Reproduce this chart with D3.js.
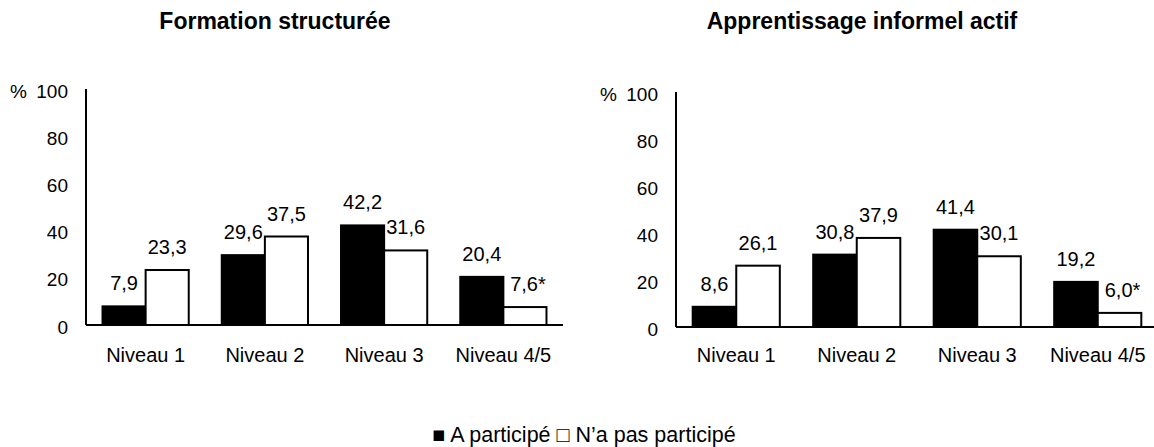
<!DOCTYPE html>
<html>
<head>
<meta charset="utf-8">
<script src="https://cdn.jsdelivr.net/npm/d3@7"></script>
<style>
  body { margin: 0; background: #fff; }
  text { font-family: "Liberation Sans", Arial, sans-serif; fill: #000; }
</style>
</head>
<body>
<svg width="1154" height="447"></svg>
<script>
'use strict';

// the data
var categories = ['Niveau 1', 'Niveau 2', 'Niveau 3', 'Niveau 4/5'];
var yTicks = [0, 20, 40, 60, 80, 100];

var formParticipe = [7.9, 29.6, 42.2, 20.4];
var formPasParticipe = [23.3, 37.5, 31.6, 7.6];
var formFlags = ['', '', '', '', '', '', '', '*']; // estimate flag on 4/5 (non)

var infParticipe = [8.6, 30.8, 41.4, 19.2];
var infPasParticipe = [26.1, 37.9, 30.1, 6.0];
var infFlags = ['', '', '', '', '', '', '', '*'];

var seriesNames = ['A participé', 'N’a pas participé'];

var svg = d3.select('svg');
var fmt = function(v){ return v.toFixed(1).replace('.', ','); };

function drawPanel(opts){
  var g = svg.append('g');

  var x = d3.scaleBand()
    .domain(categories)
    .range([opts.left, opts.right])
    .paddingInner(0.277)
    .paddingOuter(0.1385);

  var sub = d3.scaleBand()
    .domain([0, 1])
    .range([0, x.bandwidth()]);

  var y = d3.scaleLinear().domain([0, 100]).range([opts.bottom, opts.top]);

  //title
  g.append('text')
    .attr('x', opts.titleX)
    .attr('y', 29)
    .attr('text-anchor', 'middle')
    .style('font-weight', 'bold')
    .style('font-size', '23px')
    .text(opts.title);

  //y axis labels (no tick marks)
  g.selectAll('.ytick').data(yTicks).enter().append('text')
    .attr('class', 'ytick')
    .attr('x', opts.left - 18)
    .attr('y', function(d){ return y(d) + 2; })
    .attr('dy', '0.35em')
    .attr('text-anchor', 'end')
    .style('font-size', '19px')
    .text(function(d){ return d; });

  g.append('text')
    .attr('x', opts.left - 76)
    .attr('y', y(100) + 2)
    .attr('dy', '0.35em')
    .style('font-size', '19px')
    .text('%');

  //bars
  var rows = [];
  categories.forEach(function(c, i){
    rows.push({cat: c, s: 0, v: opts.a[i], flag: opts.flags[i * 2]});
    rows.push({cat: c, s: 1, v: opts.b[i], flag: opts.flags[i * 2 + 1]});
  });

  g.selectAll('rect.bar').data(rows).enter().append('rect')
    .attr('class', 'bar')
    .attr('x', function(d){ return x(d.cat) + sub(d.s); })
    .attr('y', function(d){ return y(d.v); })
    .attr('width', sub.bandwidth())
    .attr('height', function(d){ return y(0) - y(d.v); })
    .attr('fill', function(d){ return d.s === 0 ? '#000' : '#fff'; })
    .attr('stroke', '#000')
    .attr('stroke-width', 2);

  g.selectAll('text.val').data(rows).enter().append('text')
    .attr('class', 'val')
    .attr('x', function(d){ return x(d.cat) + sub(d.s) + sub.bandwidth() / 2 + (d.flag ? 3 : 0); })
    .attr('y', function(d){ return y(d.v) - 16; })
    .attr('text-anchor', 'middle')
    .style('font-size', '20px')
    .text(function(d){ return fmt(d.v) + d.flag; });

  //axes lines
  g.append('line')
    .attr('x1', opts.left).attr('x2', opts.left)
    .attr('y1', opts.top).attr('y2', y(0))
    .attr('stroke', '#000').attr('stroke-width', 2);
  g.append('line')
    .attr('x1', opts.left).attr('x2', opts.right)
    .attr('y1', y(0)).attr('y2', y(0))
    .attr('stroke', '#000').attr('stroke-width', 2);

  //category labels
  g.selectAll('text.cat').data(categories).enter().append('text')
    .attr('class', 'cat')
    .attr('x', function(d){ return x(d) + x.bandwidth() / 2; })
    .attr('y', 362)
    .attr('text-anchor', 'middle')
    .style('font-size', '20px')
    .text(function(d){ return d; });
}

drawPanel({title: 'Formation structurée', titleX: 275, left: 86, right: 563,
  top: 89, bottom: 325, a: formParticipe, b: formPasParticipe, flags: formFlags});
drawPanel({title: 'Apprentissage informel actif', titleX: 862, left: 676, right: 1158,
  top: 92, bottom: 327, a: infParticipe, b: infPasParticipe, flags: infFlags});

//legend
svg.append('text')
  .attr('x', 584)
  .attr('y', 442)
  .attr('text-anchor', 'middle')
  .style('font-size', '21.5px')
  .text('■ ' + seriesNames[0] + ' □ ' + seriesNames[1]);
</script>
</body>
</html>
